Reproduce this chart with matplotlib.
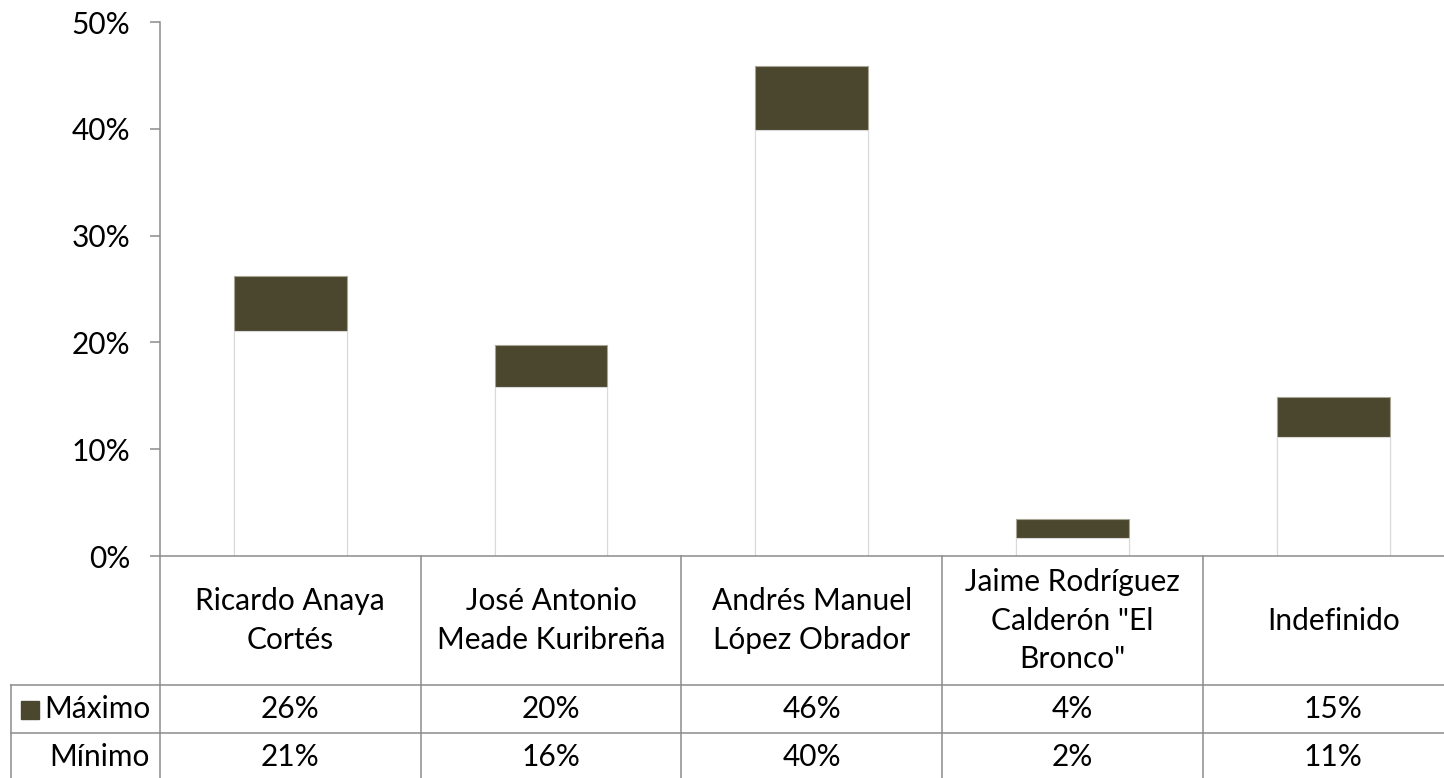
import numpy as np
import matplotlib
matplotlib.use("Agg")
import matplotlib.pyplot as plt
from matplotlib.patches import Rectangle

# Datos
candidatos = ['Ricardo Anaya\nCortés', 'José Antonio\nMeade Kuribreña',
              'Andrés Manuel\nLópez Obrador', 'Jaime Rodríguez\nCalderón "El\nBronco"',
              'Indefinido']
maximo = [0.262, 0.198, 0.459, 0.035, 0.149]
minimo = [0.211, 0.158, 0.399, 0.017, 0.111]
yticks = [0, 0.1, 0.2, 0.3, 0.4, 0.5]

W, H = 1444, 778
oscuro = '#4b462e'
gris = '#8c8c8c'
plt.rcParams['font.family'] = ['Lato', 'DejaVu Sans']
fs = 21.5

fig = plt.figure(figsize=(W/100, H/100), dpi=100)
fig.patch.set_facecolor('white')

# ejes principales (la tabla se corta por la derecha como en el original)
colw = 260.7
ax = fig.add_axes([160/W, (H-556)/H, 5*colw/W, 534/H])
x = np.arange(len(candidatos))
ax.bar(x, maximo, width=0.433, color=oscuro, edgecolor='#a8a594', linewidth=0.8)
ax.bar(x, minimo, width=0.433, color='white', edgecolor='#d9d9d9', linewidth=0.8)
ax.set_xlim(-0.5, 4.5)
ax.set_ylim(0, 0.5)
ax.set_yticks(yticks)
ax.set_yticklabels(['%d%%' % round(v*100) for v in yticks], fontsize=fs)
ax.tick_params(axis='y', length=7.2, width=1.1, color=gris, pad=14)
ax.set_xticks([])
for s in ['top', 'right']:
    ax.spines[s].set_visible(False)
ax.spines['left'].set_color(gris)
ax.spines['left'].set_linewidth(1.1)
ax.spines['bottom'].set_color(gris)
ax.spines['bottom'].set_linewidth(1.1)

# tabla de datos
tx = fig.add_axes([160/W, (H-781)/H, 5*colw/W, 225/H])
tx.set_xlim(-0.5, 4.5)
tx.set_ylim(225, 0)
tx.axis('off')
izq = -0.5 - 149/colw
for xv in np.arange(-0.5, 5.0, 1.0):
    tx.plot([xv, xv], [0, 225], color=gris, lw=1.1, clip_on=False)
for yv in [129, 177, 225]:
    tx.plot([izq, 4.5], [yv, yv], color=gris, lw=1.1, clip_on=False)
tx.plot([izq, izq], [129, 225], color=gris, lw=1.1, clip_on=False)

for i, c in enumerate(candidatos):
    tx.text(i, 64.5, c, ha='center', va='center', fontsize=fs, linespacing=1.45)
    tx.text(i, 153, '%d%%' % round(maximo[i]*100), ha='center', va='center', fontsize=fs)
    tx.text(i, 201, '%d%%' % round(minimo[i]*100), ha='center', va='center', fontsize=fs)

xr = -0.5 - 10/colw
tx.text(xr, 153, 'Máximo', ha='right', va='center', fontsize=fs, clip_on=False)
tx.text(xr, 201, 'Mínimo', ha='right', va='center', fontsize=fs, clip_on=False)
tx.add_patch(Rectangle((-0.5 - 139/colw, 145), 18/colw, 18, color=oscuro, clip_on=False))

fig.savefig('out.png', dpi=100)
